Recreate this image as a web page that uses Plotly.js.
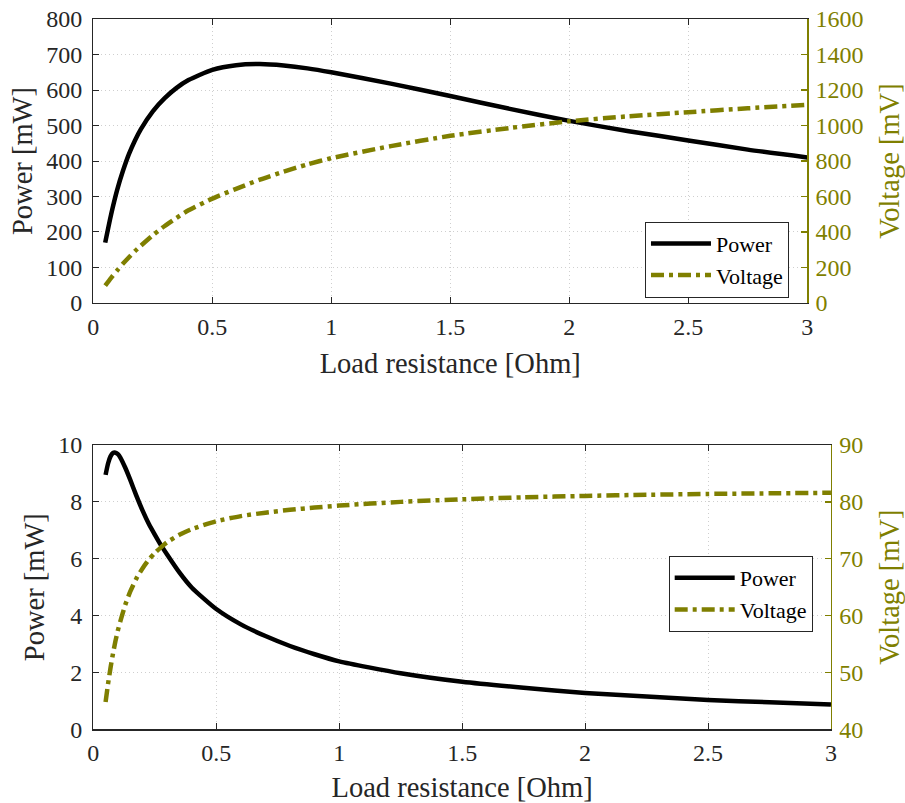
<!DOCTYPE html>
<html>
<head>
<meta charset="utf-8">
<script src="https://cdn.plot.ly/plotly-3.0.1.min.js"></script>
<style>html,body{margin:0;padding:0;background:#fff;}#chart{width:905px;height:803px;}</style>
</head>
<body>
<div id="chart"></div>
<script>
// ---- Data ----
const resistanceTop = [0.05, 0.075, 0.1, 0.125, 0.15, 0.175, 0.2, 0.25, 0.3, 0.35, 0.4, 0.5, 0.6, 0.7, 0.8, 0.9, 1.0, 1.25, 1.5, 1.75, 2.0, 2.25, 2.5, 2.75, 3.0];
const powerTop      = [170, 250, 318, 373, 420, 458, 490, 540, 577, 606, 628, 657, 670, 673, 669, 661, 650, 618, 583, 547, 513, 484, 458, 432, 410];
const voltageTop    = [98, 142, 183, 222, 258, 292, 323, 382, 434, 480, 522, 588, 643, 695, 740, 781, 816, 884, 942, 986, 1024, 1052, 1075, 1097, 1116];

const resistanceBot = [0.05, 0.06, 0.07, 0.08, 0.09, 0.1, 0.11, 0.13, 0.15, 0.175, 0.2, 0.225, 0.25, 0.275, 0.3, 0.35, 0.4, 0.5, 0.6, 0.7, 0.8, 0.9, 1.0, 1.25, 1.5, 1.75, 2.0, 2.25, 2.5, 2.75, 3.0];
const powerBot      = [8.95, 9.35, 9.6, 9.72, 9.73, 9.68, 9.56, 9.2, 8.78, 8.22, 7.7, 7.24, 6.85, 6.48, 6.15, 5.52, 4.99, 4.23, 3.69, 3.28, 2.93, 2.64, 2.39, 1.97, 1.67, 1.46, 1.28, 1.15, 1.03, 0.95, 0.87];
const voltageBot    = [44.8, 48.0, 50.8, 53.3, 55.5, 57.4, 59.0, 61.9, 64.2, 66.5, 68.3, 69.8, 71.0, 72.0, 72.9, 74.2, 75.2, 76.6, 77.5, 78.1, 78.6, 79.0, 79.35, 80.0, 80.45, 80.8, 81.05, 81.25, 81.4, 81.5, 81.6];

const xTickVals = [0, 0.5, 1, 1.5, 2, 2.5, 3];
const xTickText = ['0', '0.5', '1', '1.5', '2', '2.5', '3'];

// ---- Styles ----
const OLIVE = '#7f7f00';
const AXC = '#262626';
const FONT = 'Liberation Serif';
const DASH = '13px,5px,4px,5px';
const GRID = '#cfcfcf';

const traces = [
  {x: resistanceTop, y: powerTop, name: 'Power', type: 'scatter', mode: 'lines',
   line: {color: '#000', width: 4.5, shape: 'spline', smoothing: 0.6}, xaxis: 'x', yaxis: 'y', legend: 'legend'},
  {x: resistanceTop, y: voltageTop, name: 'Voltage', type: 'scatter', mode: 'lines',
   line: {color: OLIVE, width: 4.5, dash: DASH, shape: 'spline', smoothing: 0.6}, xaxis: 'x', yaxis: 'y2', legend: 'legend'},
  {x: resistanceBot, y: powerBot, name: 'Power', type: 'scatter', mode: 'lines',
   line: {color: '#000', width: 4.5, shape: 'spline', smoothing: 0.6}, xaxis: 'x2', yaxis: 'y3', legend: 'legend2'},
  {x: resistanceBot, y: voltageBot, name: 'Voltage', type: 'scatter', mode: 'lines',
   line: {color: OLIVE, width: 4.5, dash: DASH, shape: 'spline', smoothing: 0.6}, xaxis: 'x2', yaxis: 'y4', legend: 'legend2'}
];

function xAxis(domain, anchor) {
  return {
    domain: domain, anchor: anchor, range: [0, 3], tickmode: 'array', tickvals: xTickVals, ticktext: xTickText,
    ticks: 'inside', ticklen: 6, tickwidth: 1, tickcolor: AXC,
    showline: true, linecolor: AXC, linewidth: 1.3, mirror: 'ticks',
    showgrid: true, gridcolor: GRID, griddash: '1px,3px', gridwidth: 1,
    zeroline: false, tickfont: {family: FONT, size: 24, color: AXC}, ticklabelstandoff: 2,
    title: {text: 'Load resistance [Ohm]', font: {family: FONT, size: 28.5, color: AXC}, standoff: 14},
    automargin: false, fixedrange: true
  };
}
function yLeft(domain, anchor, range, dtick, title) {
  return {
    domain: domain, anchor: anchor, range: range, dtick: dtick, tick0: range[0],
    ticks: 'inside', ticklen: 6, tickwidth: 1, tickcolor: AXC,
    showline: true, linecolor: AXC, linewidth: 1.3, mirror: false,
    showgrid: true, gridcolor: GRID, griddash: '1px,3px', gridwidth: 1,
    zeroline: false, tickfont: {family: FONT, size: 24, color: AXC}, ticklabelstandoff: 5,
    title: {text: title, font: {family: FONT, size: 28.5, color: AXC}, standoff: 5},
    automargin: false, fixedrange: true
  };
}
function yRight(overlay, anchor, range, dtick) {
  return {
    overlaying: overlay, anchor: anchor, side: 'right', range: range, dtick: dtick, tick0: range[0],
    ticks: 'inside', ticklen: 6, tickwidth: 1.3, tickcolor: OLIVE,
    showline: true, linecolor: OLIVE, linewidth: 1.5,
    showgrid: false, zeroline: false, tickfont: {family: FONT, size: 24, color: OLIVE}, ticklabelstandoff: 2,
    title: {text: 'Voltage [mV]', font: {family: FONT, size: 28.5, color: OLIVE}, standoff: 18},
    automargin: false, fixedrange: true
  };
}

const legendStyle = {
  bgcolor: '#ffffff', bordercolor: AXC, borderwidth: 1,
  font: {family: FONT, size: 22, color: '#000'}, xanchor: 'right', yanchor: 'top',
  tracegroupgap: 0, itemwidth: 60
};

const layout = {
  width: 905, height: 803,
  margin: {l: 0, r: 0, t: 0, b: 0},
  paper_bgcolor: '#ffffff', plot_bgcolor: '#ffffff',
  font: {family: FONT, color: AXC},
  showlegend: true,
  xaxis: xAxis([0.1031, 0.8920], 'y'),
  yaxis: yLeft([0.6227, 0.9763], 'x', [0, 800], 100, 'Power [mW]'),
  yaxis2: yRight('y', 'x', [0, 1600], 200),
  xaxis2: xAxis([0.1031, 0.9182], 'y3'),
  yaxis3: yLeft([0.0918, 0.4458], 'x2', [0, 10], 2, 'Power [mW]'),
  yaxis4: yRight('y3', 'x2', [40, 90], 10),
  legend: Object.assign({}, legendStyle, {x: 0.8718, y: 0.7239}),
  legend2: Object.assign({}, legendStyle, {x: 0.898, y: 0.3076})
};

Plotly.newPlot('chart', traces, layout, {displayModeBar: false, staticPlot: true});
</script>
</body>
</html>
